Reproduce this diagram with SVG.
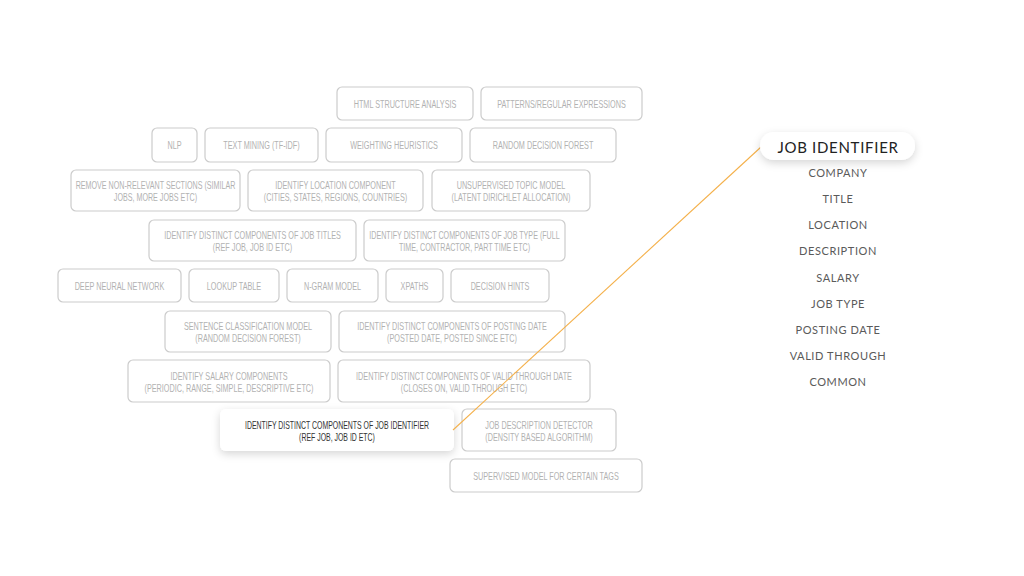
<svg xmlns="http://www.w3.org/2000/svg" width="1024" height="576" viewBox="0 0 1024 576">
<defs>
<style>
.b{fill:#fff;stroke:#cccccc;stroke-width:1.2}
.t{font-family:"Liberation Sans",Arial,sans-serif;font-size:11px;fill:#b2b2b2;text-anchor:middle}
.h{fill:#fff}
.ht{font-family:"Liberation Sans",Arial,sans-serif;font-size:11px;fill:#333;text-anchor:middle}
.l{font-family:Lato,"Noto Sans",sans-serif;font-size:11px;fill:#5a5a5a;text-anchor:middle;letter-spacing:0.6px}
.lh{font-family:Lato,"Noto Sans",sans-serif;font-size:15px;fill:#222;text-anchor:middle;letter-spacing:0.7px}
</style>
<filter id="sh" x="-20%" y="-40%" width="140%" height="200%">
<feDropShadow dx="0" dy="3" stdDeviation="4" flood-color="#000" flood-opacity="0.16"/>
</filter>
</defs>
<rect width="1024" height="576" fill="#fff"/>

<g id="n1"><rect class="b" x="337" y="87" width="136" height="33" rx="5"/><text class="t" transform="matrix(0.66 0 0 1 405 107.5)">HTML STRUCTURE ANALYSIS</text></g>
<g id="n2"><rect class="b" x="481" y="87" width="161" height="33" rx="5"/><text class="t" transform="matrix(0.66 0 0 1 561.5 107.5)">PATTERNS/REGULAR EXPRESSIONS</text></g>

<g id="n3"><rect class="b" x="152" y="128" width="45" height="34" rx="5"/><text class="t" transform="matrix(0.66 0 0 1 174.5 149)">NLP</text></g>
<g id="n4"><rect class="b" x="205" y="128" width="113" height="34" rx="5"/><text class="t" transform="matrix(0.66 0 0 1 261.5 149)">TEXT MINING (TF-IDF)</text></g>
<g id="n5"><rect class="b" x="326" y="128" width="136" height="34" rx="5"/><text class="t" transform="matrix(0.66 0 0 1 394 149)">WEIGHTING HEURISTICS</text></g>
<g id="n6"><rect class="b" x="470" y="128" width="146" height="34" rx="5"/><text class="t" transform="matrix(0.66 0 0 1 543 149)">RANDOM DECISION FOREST</text></g>

<g id="n7"><rect class="b" x="71" y="170" width="169" height="41" rx="5"/><text class="t" transform="matrix(0.65 0 0 1 155.5 189)">REMOVE NON-RELEVANT SECTIONS (SIMILAR</text><text class="t" transform="matrix(0.65 0 0 1 155.5 201)">JOBS, MORE JOBS ETC)</text></g>
<g id="n8"><rect class="b" x="248" y="170" width="175" height="41" rx="5"/><text class="t" transform="matrix(0.66 0 0 1 335.5 189)">IDENTIFY LOCATION COMPONENT</text><text class="t" transform="matrix(0.66 0 0 1 335.5 201)">(CITIES, STATES, REGIONS, COUNTRIES)</text></g>
<g id="n9"><rect class="b" x="432" y="170" width="158" height="41" rx="5"/><text class="t" transform="matrix(0.66 0 0 1 511 189)">UNSUPERVISED TOPIC MODEL</text><text class="t" transform="matrix(0.66 0 0 1 511 201)">(LATENT DIRICHLET ALLOCATION)</text></g>

<g id="n10"><rect class="b" x="149" y="220" width="207" height="41" rx="5"/><text class="t" transform="matrix(0.66 0 0 1 252.5 239)">IDENTIFY DISTINCT COMPONENTS OF JOB TITLES</text><text class="t" transform="matrix(0.66 0 0 1 252.5 251)">(REF JOB, JOB ID ETC)</text></g>
<g id="n11"><rect class="b" x="364" y="220" width="201" height="41" rx="5"/><text class="t" transform="matrix(0.65 0 0 1 464.5 239)">IDENTIFY DISTINCT COMPONENTS OF JOB TYPE (FULL</text><text class="t" transform="matrix(0.65 0 0 1 464.5 251)">TIME, CONTRACTOR, PART TIME ETC)</text></g>

<g id="n12"><rect class="b" x="58" y="269" width="123" height="33" rx="5"/><text class="t" transform="matrix(0.66 0 0 1 119.5 289.5)">DEEP NEURAL NETWORK</text></g>
<g id="n13"><rect class="b" x="189" y="269" width="90" height="33" rx="5"/><text class="t" transform="matrix(0.66 0 0 1 234 289.5)">LOOKUP TABLE</text></g>
<g id="n14"><rect class="b" x="287" y="269" width="91" height="33" rx="5"/><text class="t" transform="matrix(0.66 0 0 1 332.5 289.5)">N-GRAM MODEL</text></g>
<g id="n15"><rect class="b" x="386" y="269" width="57" height="33" rx="5"/><text class="t" transform="matrix(0.66 0 0 1 414.5 289.5)">XPATHS</text></g>
<g id="n16"><rect class="b" x="451" y="269" width="98" height="33" rx="5"/><text class="t" transform="matrix(0.66 0 0 1 500 289.5)">DECISION HINTS</text></g>

<g id="n17"><rect class="b" x="165" y="311" width="166" height="41" rx="5"/><text class="t" transform="matrix(0.66 0 0 1 248 330)">SENTENCE CLASSIFICATION MODEL</text><text class="t" transform="matrix(0.66 0 0 1 248 342)">(RANDOM DECISION FOREST)</text></g>
<g id="n18"><rect class="b" x="339" y="311" width="226" height="41" rx="5"/><text class="t" transform="matrix(0.66 0 0 1 452 330)">IDENTIFY DISTINCT COMPONENTS OF POSTING DATE</text><text class="t" transform="matrix(0.66 0 0 1 452 342)">(POSTED DATE, POSTED SINCE ETC)</text></g>

<g id="n19"><rect class="b" x="128" y="360" width="202" height="42" rx="5"/><text class="t" transform="matrix(0.66 0 0 1 229 379.5)">IDENTIFY SALARY COMPONENTS</text><text class="t" transform="matrix(0.66 0 0 1 229 391.5)">(PERIODIC, RANGE, SIMPLE, DESCRIPTIVE ETC)</text></g>
<g id="n20"><rect class="b" x="338" y="360" width="252" height="42" rx="5"/><text class="t" transform="matrix(0.66 0 0 1 464 379.5)">IDENTIFY DISTINCT COMPONENTS OF VALID THROUGH DATE</text><text class="t" transform="matrix(0.66 0 0 1 464 391.5)">(CLOSES ON, VALID THROUGH ETC)</text></g>

<g id="n21"><rect class="h" x="220" y="409" width="234" height="42" rx="6" filter="url(#sh)"/><text class="ht" transform="matrix(0.63 0 0 1 337 428.5)">IDENTIFY DISTINCT COMPONENTS OF JOB IDENTIFIER</text><text class="ht" transform="matrix(0.63 0 0 1 337 440.5)">(REF JOB, JOB ID ETC)</text></g>
<g id="n22"><rect class="b" x="462" y="409" width="154" height="42" rx="5"/><text class="t" transform="matrix(0.66 0 0 1 539 428.5)">JOB DESCRIPTION DETECTOR</text><text class="t" transform="matrix(0.66 0 0 1 539 440.5)">(DENSITY BASED ALGORITHM)</text></g>

<g id="n23"><rect class="b" x="450" y="459" width="192" height="33" rx="5"/><text class="t" transform="matrix(0.66 0 0 1 546 479.5)">SUPERVISED MODEL FOR CERTAIN TAGS</text></g>

<g id="connectors"><line x1="453" y1="430" x2="761" y2="147" stroke="#f4b04a" stroke-width="1.1"/></g>

<g id="list">
<g id="f-jobid"><rect class="h" x="760" y="132" width="155" height="28" rx="14" filter="url(#sh)"/><text class="lh" x="838" y="152.5">JOB IDENTIFIER</text></g>
<g id="f-company"><text class="l" x="838" y="177">COMPANY</text></g>
<g id="f-title"><text class="l" x="838" y="203">TITLE</text></g>
<g id="f-location"><text class="l" x="838" y="229">LOCATION</text></g>
<g id="f-description"><text class="l" x="838" y="255">DESCRIPTION</text></g>
<g id="f-salary"><text class="l" x="838" y="282">SALARY</text></g>
<g id="f-jobtype"><text class="l" x="838" y="308">JOB TYPE</text></g>
<g id="f-posting"><text class="l" x="838" y="334">POSTING DATE</text></g>
<g id="f-valid"><text class="l" x="838" y="360">VALID THROUGH</text></g>
<g id="f-common"><text class="l" x="838" y="386">COMMON</text></g>
</g>
</svg>
